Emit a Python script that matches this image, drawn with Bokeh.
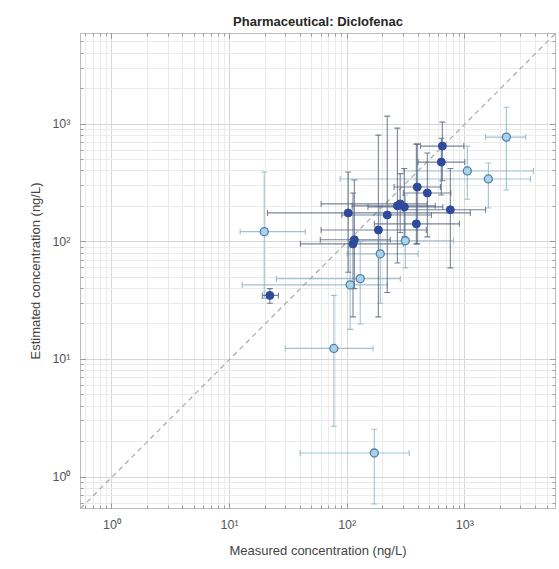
import numpy as np
from bokeh.plotting import figure
from bokeh.models import ColumnDataSource, LogAxis, LogTicker, Range1d
from bokeh.embed import file_html
from bokeh.resources import INLINE

# Diclofenac: measured vs. estimated concentrations (ng/L) with uncertainty ranges
# Group 1 (dark markers)
meas_1 = [644, 631, 394, 480, 267, 282, 306, 753, 102, 219, 387, 184, 115, 112, 22]
est_1 = [651, 476, 292, 260, 202, 210, 198, 187, 176, 169, 142, 126, 104, 96, 35]
meas_lo_1 = [420, 400, 250, 300, 110, 60, 150, 300, 21, 90, 170, 60, 59, 40, 19]
meas_hi_1 = [980, 1000, 620, 760, 560, 480, 650, 1500, 1114, 520, 900, 470, 232, 300, 26]
est_lo_1 = [330, 250, 96, 110, 66, 120, 110, 60, 55, 37, 96, 23, 40, 23, 30]
est_hi_1 = [1040, 760, 677, 568, 925, 380, 420, 420, 392, 1170, 677, 807, 335, 260, 40]

# Group 2 (light markers)
meas_2 = [2255, 1050, 1585, 312, 191, 19.7, 129, 106, 77, 170]
est_2 = [776, 400, 342, 102, 79, 122, 48.6, 43, 12.4, 1.6]
meas_lo_2 = [1500, 300, 87, 120, 100, 12.3, 25, 12.8, 29.7, 39.8]
meas_hi_2 = [3300, 3830, 3610, 800, 400, 44, 283, 219, 166, 337]
est_lo_2 = [276, 230, 194, 60, 30, 33, 20, 18, 2.7, 0.59]
est_hi_2 = [1393, 650, 467, 250, 200, 392, 100, 90, 35, 2.55]

x_ticks = [1, 10, 100, 1000]
x_tick_labels = ["10\u2070", "10\u00b9", "10\u00b2", "10\u00b3"]
y_ticks = [1, 10, 100, 1000]
y_tick_labels = ["10\u2070", "10\u00b9", "10\u00b2", "10\u00b3"]

FONT = "Liberation Sans"
lo, hi = 0.54, 5900

p = figure(width=559, height=569, x_axis_type="log", y_axis_type="log",
           x_range=Range1d(lo, hi), y_range=Range1d(lo, hi),
           output_backend="svg", toolbar_location=None,
           title="Pharmaceutical: Diclofenac",
           min_border_left=80, min_border_right=4, min_border_top=33, min_border_bottom=61)

p.title.align = "center"
p.title.text_font = FONT
p.title.text_font_size = "13px"
p.title.text_font_style = "bold"
p.title.text_color = "#262626"
p.title.offset = 0
p.background_fill_color = "white"
p.border_fill_color = "white"
p.outline_line_color = "#bdbdbd"

def style_axis(ax, show_labels=True):
    ax.ticker = LogTicker(num_minor_ticks=10)
    ax.axis_line_color = "#bdbdbd"
    ax.major_tick_line_color = "#8c8c8c"
    ax.minor_tick_line_color = "#9c9c9c"
    ax.major_tick_in = 5
    ax.major_tick_out = 0
    ax.minor_tick_in = 3
    ax.minor_tick_out = 0
    ax.major_label_text_font = FONT
    ax.major_label_text_font_size = "12.5px"
    ax.major_label_text_color = "#555555" if show_labels else None
    ax.axis_label_text_font = FONT
    ax.axis_label_text_font_size = "13px"
    ax.axis_label_text_font_style = "normal"
    ax.axis_label_text_color = "#444444"

style_axis(p.xaxis[0])
style_axis(p.yaxis[0])
p.xaxis.major_label_overrides = dict(zip(x_ticks, x_tick_labels))
p.yaxis.major_label_overrides = dict(zip(y_ticks, y_tick_labels))
p.xaxis.axis_label = "Measured concentration (ng/L)"
p.yaxis.axis_label = "Estimated concentration (ng/L)"
p.xaxis.major_label_standoff = 9
p.xaxis.axis_label_standoff = 8
p.yaxis.major_label_standoff = 10
p.yaxis.axis_label_standoff = 6

for g in (p.xgrid[0], p.ygrid[0]):
    g.ticker = LogTicker(num_minor_ticks=10)
    g.grid_line_color = "#d6d6d6"
    g.minor_grid_line_color = "#ebebeb"

# diagonal 1:1 line
p.line([lo, hi], [lo, hi], line_color="#a8a8a8", line_dash="5 4", line_width=1.2)

def draw_group(mx, ey, mlo, mhi, elo, ehi, bar_color):
    src = ColumnDataSource(dict(x=mx, y=ey, xlo=mlo, xhi=mhi, ylo=elo, yhi=ehi))
    p.segment("xlo", "y", "xhi", "y", source=src, line_color=bar_color, line_width=1.1, line_alpha=0.8)
    p.segment("x", "ylo", "x", "yhi", source=src, line_color=bar_color, line_width=1.1, line_alpha=0.8)
    # caps
    for cx, cy, ang in (("x", "ylo", 0), ("x", "yhi", 0), ("xlo", "y", np.pi / 2), ("xhi", "y", np.pi / 2)):
        p.scatter(cx, cy, source=src, marker="dash", angle=ang, size=6,
                  line_color=bar_color, line_width=1.1, line_alpha=0.8)
    return src

src2 = draw_group(meas_2, est_2, meas_lo_2, meas_hi_2, est_lo_2, est_hi_2, "#8fb0c4")
src1 = draw_group(meas_1, est_1, meas_lo_1, meas_hi_1, est_lo_1, est_hi_1, "#56667f")

p.scatter("x", "y", source=src2, size=8, fill_color="#aad3ea", line_color="#4f7fa8", line_width=1.3)
p.scatter("x", "y", source=src1, size=8, fill_color="#2f4a9c", line_color="#2f4a9c", line_width=1)

# box ticks on top and right
top = LogAxis()
right = LogAxis()
style_axis(top, False)
style_axis(right, False)
p.add_layout(top, "above")
p.add_layout(right, "right")

open("out.html", "w").write(file_html(p, INLINE))
